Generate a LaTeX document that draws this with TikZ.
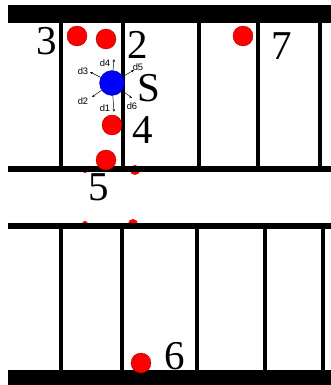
\documentclass[tikz,border=0pt]{standalone}
\usepackage{fontspec}
\setmainfont{Liberation Serif}
\newfontfamily\lblfont{Liberation Sans}
\usepackage{tikz}
\usetikzlibrary{arrows.meta,positioning}

\begin{document}
\begin{tikzpicture}[x=0.03cm,y=-0.03cm,
	num/.style={inner sep=0pt,font=\fontsize{35}{40}\selectfont},
	dlbl/.style={inner sep=0pt,font=\lblfont\fontsize{8}{9}\selectfont},
	reddot/.style={circle,fill=red,draw=red!55!black,line width=0.3pt,minimum size=20*0.03cm,inner sep=0pt},
	darr/.style={-{Stealth[length=2.5pt,width=2pt]},line width=0.4pt}]
	\useasboundingbox (0,0) rectangle (331,385);

	% red bits under the bars
	\fill[red] (135,170) circle (5);
	\fill[red] (85,170) circle (3);
	\fill[red] (133,224) circle (5);
	\fill[red] (85,224) circle (3);

	% upper row
	\fill (8,5) rectangle (331,23);
	\fill (8,166) rectangle (331,171.5);
	\draw[line width=3.4pt] (61,23) -- (61,166);
	\draw[line width=3.4pt] (123,23) -- (123,166);
	\draw[line width=3.4pt] (199,23) -- (199,166);
	\draw[line width=3.4pt] (258,23) -- (258,166);
	\draw[line width=3.4pt] (320,23) -- (320,166);

	% lower row
	\fill (8,222.5) rectangle (331,229);
	\fill (8,370) rectangle (331,385);
	\draw[line width=3.4pt] (61,229) -- (61,370);
	\draw[line width=3.4pt] (122,229) -- (122,370);
	\draw[line width=3.4pt] (197,229) -- (197,370);
	\draw[line width=3.4pt] (265,229) -- (265,370);
	\draw[line width=3.4pt] (323,229) -- (323,370);

	% dots
	\node[reddot] (p3) at (77,36) {};
	\node[reddot] (p2) at (106,39) {};
	\node[reddot] (p7) at (243,36) {};
	\node[reddot] (p4) at (112,125) {};
	\node[reddot] (p5) at (106,160) {};
	\node[reddot] (p6) at (141,363) {};
	\node[circle,fill=blue,draw=blue!50!black,line width=0.3pt,minimum size=25*0.03cm,inner sep=0pt] (s) at (112,83) {};

	\node[num] (n3) at (47,41) {3};
	\node[num] (n2) at (138,45) {2};
	\node[num] (n7) at (282,46) {7};
	\node[num] (nS) at (149,88) {S};
	\node[num] (n4) at (143,130) {4};
	\node[num] (n5) at (99,187) {5};
	\node[num] (n6) at (175,356) {6};

	% directions
	\coordinate (e1) at (114,112);
	\coordinate (e2) at (92,97);
	\coordinate (e3) at (90,72);
	\coordinate (e4) at (114,59);
	\coordinate (e5) at (134,70);
	\coordinate (e6) at (132,98);
	\draw[darr] (s) -- (e1);
	\draw[darr] (s) -- (e2);
	\draw[darr] (s) -- (e3);
	\draw[darr] (s) -- (e4);
	\draw[darr] (s) -- (e5);
	\draw[darr] (s) -- (e6);
	\node[dlbl] (d1) at (105,108) {d1};
	\node[dlbl] (d2) at (83,101) {d2};
	\node[dlbl] (d3) at (83,71) {d3};
	\node[dlbl] (d4) at (105,63) {d4};
	\node[dlbl] (d5) at (138,67) {d5};
	\node[dlbl] (d6) at (132,106) {d6};
\end{tikzpicture}
\end{document}
